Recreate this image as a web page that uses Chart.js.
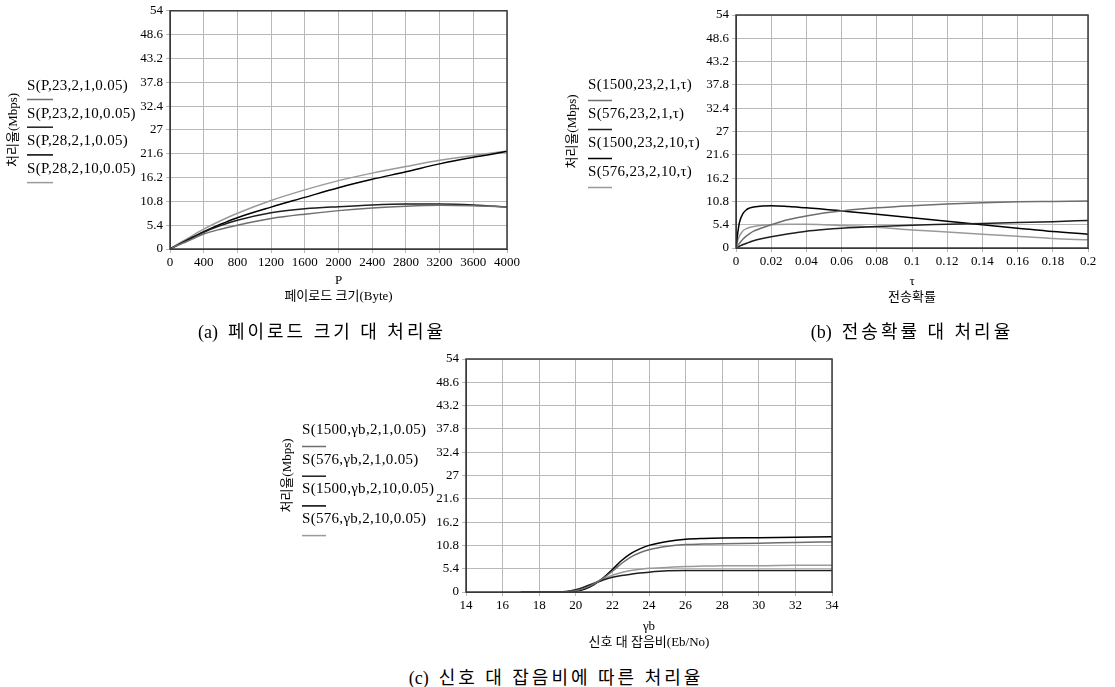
<!DOCTYPE html>
<html>
<head>
<meta charset="utf-8">
<script src="https://cdn.jsdelivr.net/npm/chart.js@4/dist/chart.umd.min.js"></script>
<style>
  html, body { margin: 0; padding: 0; background: #fff; }
  #page { position: relative; width: 1115px; height: 687px; overflow: hidden; background: #fff; }
  canvas { position: absolute; }
  .cap { position: absolute; font-family: 'Liberation Serif', 'Noto Sans CJK KR', serif; font-size: 18px; color: #000; white-space: nowrap; transform: translate(-50%, -50%); }
  .cap .tag { letter-spacing: 0; margin-right: 10px; }
  .cap .txt { letter-spacing: 3px; }
</style>
</head>
<body>
<div id="page">
  <canvas id="cA" width="530" height="305" style="left:0px;top:0px;"></canvas>
  <canvas id="cB" width="560" height="310" style="left:555px;top:0px;"></canvas>
  <canvas id="cC" width="590" height="320" style="left:270px;top:340px;"></canvas>
  <div class="cap" id="capA" style="left:322px;top:330px;"></div>
  <div class="cap" id="capB" style="left:912px;top:330px;"></div>
  <div class="cap" id="capC" style="left:556px;top:676px;"></div>
</div>
<script>
// ---------------- DATA ----------------
const yTickValues = [0, 5.4, 10.8, 16.2, 21.6, 27, 32.4, 37.8, 43.2, 48.6, 54];
const yTickLabels = ['0', '5.4', '10.8', '16.2', '21.6', '27', '32.4', '37.8', '43.2', '48.6', '54'];
const yAxisTitle = '처리율(Mbps)';

// (a) payload size vs throughput
const aCaptionTag = '(a)';
const aCaption = '페이로드 크기 대 처리율';
const aXTitle = ['P', '페이로드 크기(Byte)'];
const aXTickValues = [0, 400, 800, 1200, 1600, 2000, 2400, 2800, 3200, 3600, 4000];
const aXTickLabels = ['0', '400', '800', '1200', '1600', '2000', '2400', '2800', '3200', '3600', '4000'];
const aLabels = ['S(P,23,2,1,0.05)', 'S(P,23,2,10,0.05)', 'S(P,28,2,1,0.05)', 'S(P,28,2,10,0.05)'];
const aP = [0, 100, 200, 400, 600, 800, 1200, 1600, 2000, 2400, 2800, 3200, 3600, 4000];
const aS1 = [0, 0.9, 1.7, 3.4, 4.5, 5.4, 6.9, 7.9, 8.7, 9.3, 9.7, 9.9, 9.8, 9.5];
const aS2 = [0, 1.0, 1.9, 3.8, 5.3, 6.5, 8.2, 9.1, 9.6, 10.0, 10.2, 10.2, 10.0, 9.5];
const aS3 = [0, 1.0, 2.0, 3.9, 5.6, 7.1, 9.5, 11.7, 13.9, 15.8, 17.5, 19.3, 20.8, 22.1];
const aS4 = [0, 1.2, 2.3, 4.5, 6.4, 8.1, 11.0, 13.4, 15.5, 17.2, 18.7, 20.1, 21.2, 22.2];

// (b) transmission probability vs throughput
const bCaptionTag = '(b)';
const bCaption = '전송확률 대 처리율';
const bXTitle = ['τ', '전송확률'];
const bXTickValues = [0, 0.02, 0.04, 0.06, 0.08, 0.1, 0.12, 0.14, 0.16, 0.18, 0.2];
const bXTickLabels = ['0', '0.02', '0.04', '0.06', '0.08', '0.1', '0.12', '0.14', '0.16', '0.18', '0.2'];
const bLabels = ['S(1500,23,2,1,τ)', 'S(576,23,2,1,τ)', 'S(1500,23,2,10,τ)', 'S(576,23,2,10,τ)'];
const bTau = [0, 0.001, 0.002, 0.004, 0.006, 0.008, 0.01, 0.015, 0.02, 0.03, 0.04, 0.05, 0.06, 0.08, 0.1, 0.12, 0.14, 0.16, 0.18, 0.2];
const bS1 = [0, 0.6, 1.1, 2.1, 2.8, 3.4, 3.9, 4.7, 5.4, 6.6, 7.4, 8.1, 8.6, 9.3, 9.8, 10.2, 10.5, 10.7, 10.8, 10.9];
const bS2 = [0, 0.2, 0.4, 0.8, 1.1, 1.4, 1.7, 2.2, 2.6, 3.3, 3.9, 4.3, 4.6, 5.0, 5.3, 5.5, 5.7, 5.9, 6.1, 6.4];
const bS3 = [0, 3.5, 6.0, 8.0, 8.9, 9.3, 9.5, 9.75, 9.8, 9.6, 9.3, 9.0, 8.6, 7.8, 7.0, 6.2, 5.4, 4.6, 3.8, 3.2];
const bS4 = [0, 1.8, 2.8, 4.0, 4.5, 4.8, 5.0, 5.3, 5.4, 5.5, 5.5, 5.4, 5.2, 4.8, 4.2, 3.7, 3.2, 2.7, 2.2, 1.9];

// (c) SNR vs throughput
const cCaptionTag = '(c)';
const cCaption = '신호 대 잡음비에 따른 처리율';
const cXTitle = ['γb', '신호 대 잡음비(Eb/No)'];
const cXTickValues = [14, 16, 18, 20, 22, 24, 26, 28, 30, 32, 34];
const cXTickLabels = ['14', '16', '18', '20', '22', '24', '26', '28', '30', '32', '34'];
const cLabels = ['S(1500,γb,2,1,0.05)', 'S(576,γb,2,1,0.05)', 'S(1500,γb,2,10,0.05)', 'S(576,γb,2,10,0.05)'];
const cGamma = [17, 18, 19, 19.5, 20, 20.5, 21, 21.5, 22, 22.5, 23, 23.5, 24, 25, 26, 27, 28, 30, 32, 34];
const cS1 = [0, 0, 0, 0.05, 0.3, 0.9, 1.9, 3.2, 4.8, 6.6, 8.1, 9.1, 9.8, 10.6, 11.0, 11.1, 11.2, 11.3, 11.5, 11.6];
const cS2 = [0, 0, 0, 0.1, 0.5, 1.2, 2.0, 2.8, 3.4, 3.8, 4.1, 4.4, 4.6, 4.9, 5.0, 5.0, 5.0, 5.0, 5.0, 5.0];
const cS3 = [0, 0, 0, 0.05, 0.2, 0.7, 1.7, 3.3, 5.2, 7.3, 8.9, 10.0, 10.8, 11.7, 12.2, 12.4, 12.5, 12.6, 12.7, 12.8];
const cS4 = [0, 0, 0, 0.1, 0.5, 1.2, 2.1, 3.0, 3.9, 4.5, 5.0, 5.3, 5.5, 5.7, 5.9, 6.0, 6.1, 6.1, 6.2, 6.2];

// ---------------- STYLE ----------------
const seriesColors = ['#6e6e6e', '#1e1e1e', '#000000', '#9a9a9a'];
const SERIF = "'Liberation Serif', 'Noto Sans CJK KR', serif";

const framePlugin = {
  id: 'frame',
  afterDatasetsDraw(chart) {
    const { ctx, chartArea: a } = chart;
    ctx.save();
    ctx.strokeStyle = '#3a3a3a';
    ctx.lineWidth = 1.5;
    ctx.strokeRect(a.left, a.top, a.right - a.left, a.bottom - a.top);
    ctx.restore();
  }
};

const sideLegendPlugin = {
  id: 'sideLegend',
  afterDraw(chart, args, opts) {
    const ctx = chart.ctx;
    ctx.save();
    ctx.font = '15px ' + SERIF;
    if ('letterSpacing' in ctx) ctx.letterSpacing = '0.3px';
    ctx.textBaseline = 'middle';
    ctx.textAlign = 'left';
    chart.data.datasets.forEach((ds, i) => {
      const y = opts.y0 + i * opts.dy;
      ctx.fillStyle = '#000';
      ctx.fillText(ds.label, opts.x, y);
      ctx.strokeStyle = ds.borderColor;
      ctx.lineWidth = 1.5;
      ctx.beginPath();
      ctx.moveTo(opts.x, y + opts.lineOff + 0.5);
      ctx.lineTo(opts.x + opts.len, y + opts.lineOff + 0.5);
      ctx.stroke();
    });
    ctx.restore();
  }
};

function makeChart(id, cfg) {
  const datasets = cfg.series.map((s, i) => ({
    label: cfg.labels[i],
    data: cfg.x.map((xv, k) => ({ x: xv, y: s[k] })),
    borderColor: seriesColors[i],
    borderWidth: 1.5,
    pointRadius: 0,
    fill: false,
    cubicInterpolationMode: 'monotone'
  }));
  return new Chart(document.getElementById(id), {
    type: 'line',
    data: { datasets },
    plugins: [framePlugin, sideLegendPlugin],
    options: {
      responsive: false,
      animation: false,
      devicePixelRatio: 1,
      layout: { padding: cfg.padding },
      plugins: {
        legend: { display: false },
        tooltip: { enabled: false },
        sideLegend: cfg.legend
      },
      scales: {
        x: {
          type: 'linear',
          min: cfg.xTicks[0],
          max: cfg.xTicks[cfg.xTicks.length - 1],
          afterBuildTicks: (sc) => { sc.ticks = cfg.xTicks.map(v => ({ value: v })); },
          afterFit: (sc) => { sc.height = cfg.xHeight; },
          ticks: {
            autoSkip: false, maxRotation: 0, padding: 2, color: '#000',
            font: { family: SERIF, size: 13 },
            callback: (v, i) => cfg.xLabels[i]
          },
          grid: { color: '#b9b9b9', lineWidth: 1, tickLength: 4, tickColor: '#b9b9b9' },
          border: { display: true, color: '#3a3a3a' },
          title: {
            display: true, text: cfg.xTitle, color: '#000',
            font: { family: SERIF, size: 13, lineHeight: 1.18 },
            padding: { top: 0, bottom: cfg.xTitlePad }
          }
        },
        y: {
          type: 'linear',
          min: 0, max: 54,
          afterBuildTicks: (sc) => { sc.ticks = yTickValues.map(v => ({ value: v })); },
          afterFit: (sc) => { sc.width = cfg.yWidth; },
          ticks: {
            autoSkip: false, padding: 3, color: '#000',
            font: { family: SERIF, size: 13 },
            callback: (v, i) => yTickLabels[i]
          },
          grid: { color: '#b9b9b9', lineWidth: 1, tickLength: 4, tickColor: '#b9b9b9' },
          border: { display: true, color: '#3a3a3a' },
          title: {
            display: true, text: yAxisTitle, color: '#000',
            font: { family: SERIF, size: 13, lineHeight: 1.2 },
            padding: { top: cfg.yTitlePad, bottom: 0 }
          }
        }
      }
    }
  });
}

function setCaption(id, tag, text) {
  const el = document.getElementById(id);
  const t = document.createElement('span'); t.className = 'tag'; t.textContent = tag;
  const s = document.createElement('span'); s.className = 'txt'; s.textContent = text;
  el.appendChild(t); el.appendChild(s);
}
setCaption('capA', aCaptionTag, aCaption);
setCaption('capB', bCaptionTag, bCaption);
setCaption('capC', cCaptionTag, cCaption);

makeChart('cA', {
  x: aP, series: [aS1, aS2, aS3, aS4], labels: aLabels,
  xTicks: aXTickValues, xLabels: aXTickLabels, xTitle: aXTitle,
  padding: { left: 0, right: 23, top: 10, bottom: 0 },
  yWidth: 170, xHeight: 56, xTitlePad: 1, yTitlePad: 6,
  legend: { x: 27, y0: 86, dy: 27.7, lineOff: 13, len: 26 }
});

makeChart('cB', {
  x: bTau, series: [bS1, bS2, bS3, bS4], labels: bLabels,
  xTicks: bXTickValues, xLabels: bXTickLabels, xTitle: bXTitle,
  padding: { left: 0, right: 27, top: 15, bottom: 0 },
  yWidth: 181, xHeight: 62, xTitlePad: 5, yTitlePad: 10,
  legend: { x: 33, y0: 85, dy: 29, lineOff: 15, len: 24 }
});

makeChart('cC', {
  x: cGamma, series: [cS1, cS2, cS3, cS4], labels: cLabels,
  xTicks: cXTickValues, xLabels: cXTickLabels, xTitle: cXTitle,
  padding: { left: 0, right: 28, top: 19, bottom: 0 },
  yWidth: 196, xHeight: 68, xTitlePad: 10, yTitlePad: 10,
  legend: { x: 32, y0: 90, dy: 29.7, lineOff: 16, len: 24 }
});
</script>
</body>
</html>
